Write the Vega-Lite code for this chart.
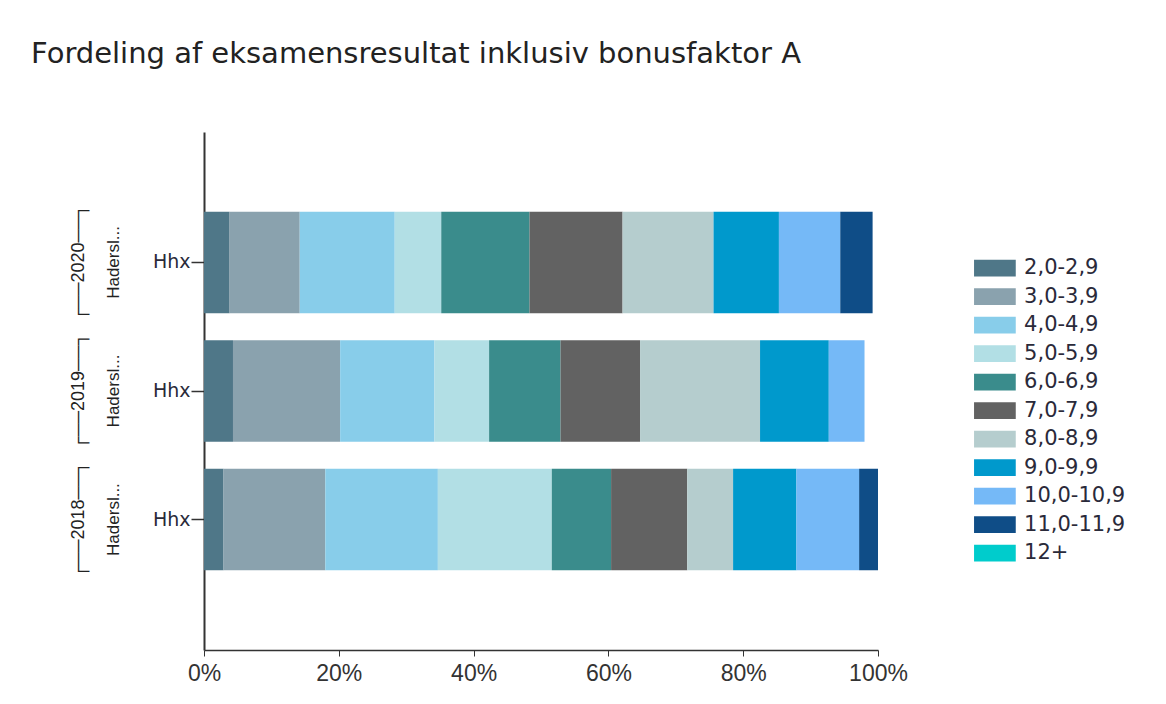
{
  "$schema": "https://vega.github.io/schema/vega-lite/v6.json",
  "autosize": {"type": "none"},
  "width": 674,
  "height": 518,
  "padding": {"left": 204, "top": 132, "right": 288, "bottom": 54},
  "background": "white",
  "title": {
    "text": "Fordeling af eksamensresultat inklusiv bonusfaktor A",
    "anchor": "start",
    "frame": "group",
    "dx": -173,
    "offset": 63,
    "font": "DejaVu Sans",
    "fontSize": 29,
    "fontWeight": "normal",
    "color": "#222222"
  },
  "data": {
    "values": [
      {"year": "2020", "school": "Hadersl...", "type": "Hhx", "k": 1, "band": "2,0-2,9", "pct": 3.8},
      {"year": "2020", "school": "Hadersl...", "type": "Hhx", "k": 2, "band": "3,0-3,9", "pct": 10.4},
      {"year": "2020", "school": "Hadersl...", "type": "Hhx", "k": 3, "band": "4,0-4,9", "pct": 14.1},
      {"year": "2020", "school": "Hadersl...", "type": "Hhx", "k": 4, "band": "5,0-5,9", "pct": 6.9},
      {"year": "2020", "school": "Hadersl...", "type": "Hhx", "k": 5, "band": "6,0-6,9", "pct": 13.1},
      {"year": "2020", "school": "Hadersl...", "type": "Hhx", "k": 6, "band": "7,0-7,9", "pct": 13.8},
      {"year": "2020", "school": "Hadersl...", "type": "Hhx", "k": 7, "band": "8,0-8,9", "pct": 13.5},
      {"year": "2020", "school": "Hadersl...", "type": "Hhx", "k": 8, "band": "9,0-9,9", "pct": 9.7},
      {"year": "2020", "school": "Hadersl...", "type": "Hhx", "k": 9, "band": "10,0-10,9", "pct": 9.1},
      {"year": "2020", "school": "Hadersl...", "type": "Hhx", "k": 10, "band": "11,0-11,9", "pct": 4.8},
      {"year": "2019", "school": "Hadersl...", "type": "Hhx", "k": 1, "band": "2,0-2,9", "pct": 4.3},
      {"year": "2019", "school": "Hadersl...", "type": "Hhx", "k": 2, "band": "3,0-3,9", "pct": 15.9},
      {"year": "2019", "school": "Hadersl...", "type": "Hhx", "k": 3, "band": "4,0-4,9", "pct": 14.0},
      {"year": "2019", "school": "Hadersl...", "type": "Hhx", "k": 4, "band": "5,0-5,9", "pct": 8.1},
      {"year": "2019", "school": "Hadersl...", "type": "Hhx", "k": 5, "band": "6,0-6,9", "pct": 10.6},
      {"year": "2019", "school": "Hadersl...", "type": "Hhx", "k": 6, "band": "7,0-7,9", "pct": 11.8},
      {"year": "2019", "school": "Hadersl...", "type": "Hhx", "k": 7, "band": "8,0-8,9", "pct": 17.8},
      {"year": "2019", "school": "Hadersl...", "type": "Hhx", "k": 8, "band": "9,0-9,9", "pct": 10.2},
      {"year": "2019", "school": "Hadersl...", "type": "Hhx", "k": 9, "band": "10,0-10,9", "pct": 5.3},
      {"year": "2018", "school": "Hadersl...", "type": "Hhx", "k": 1, "band": "2,0-2,9", "pct": 2.9},
      {"year": "2018", "school": "Hadersl...", "type": "Hhx", "k": 2, "band": "3,0-3,9", "pct": 15.1},
      {"year": "2018", "school": "Hadersl...", "type": "Hhx", "k": 3, "band": "4,0-4,9", "pct": 16.7},
      {"year": "2018", "school": "Hadersl...", "type": "Hhx", "k": 4, "band": "5,0-5,9", "pct": 16.9},
      {"year": "2018", "school": "Hadersl...", "type": "Hhx", "k": 5, "band": "6,0-6,9", "pct": 8.8},
      {"year": "2018", "school": "Hadersl...", "type": "Hhx", "k": 6, "band": "7,0-7,9", "pct": 11.3},
      {"year": "2018", "school": "Hadersl...", "type": "Hhx", "k": 7, "band": "8,0-8,9", "pct": 6.8},
      {"year": "2018", "school": "Hadersl...", "type": "Hhx", "k": 8, "band": "9,0-9,9", "pct": 9.4},
      {"year": "2018", "school": "Hadersl...", "type": "Hhx", "k": 9, "band": "10,0-10,9", "pct": 9.3},
      {"year": "2018", "school": "Hadersl...", "type": "Hhx", "k": 10, "band": "11,0-11,9", "pct": 2.8}
    ]
  },
  "layer": [
    {
      "mark": {"type": "bar", "opacity": 1, "strokeWidth": 0},
      "encoding": {
        "y": {
          "field": "year",
          "type": "nominal",
          "sort": "descending",
          "scale": {"paddingInner": 0.21, "paddingOuter": 0.62},
          "axis": {
            "orient": "left",
            "title": null,
            "labelExpr": "'Hhx'",
            "labelFont": "DejaVu Sans",
            "labelFontSize": 19,
            "labelColor": "#2a2a3a",
            "labelPadding": 1,
            "tickSize": 13,
            "tickColor": "#333333",
            "tickWidth": 1.5,
            "domainColor": "#333333",
            "domainWidth": 2,
            "grid": false
          }
        },
        "x": {
          "field": "pct",
          "type": "quantitative",
          "stack": "zero",
          "scale": {"domain": [0, 100], "nice": false},
          "axis": {
            "title": null,
            "values": [0, 20, 40, 60, 80, 100],
            "labelExpr": "datum.value + '%'",
            "labelFont": "Liberation Sans",
            "labelFontSize": 23,
            "labelColor": "#333333",
            "labelPadding": 6,
            "labelFlush": false,
            "tickSize": 6,
            "tickColor": "#333333",
            "domainColor": "#333333",
            "domainWidth": 1.5,
            "grid": false
          }
        },
        "order": {"field": "k", "type": "quantitative"},
        "color": {
          "field": "band",
          "type": "nominal",
          "scale": {
            "domain": ["2,0-2,9", "3,0-3,9", "4,0-4,9", "5,0-5,9", "6,0-6,9", "7,0-7,9", "8,0-8,9", "9,0-9,9", "10,0-10,9", "11,0-11,9", "12+"],
            "range": ["#4f7788", "#8aa2ae", "#88cdea", "#b2dfe5", "#3a8c8c", "#626262", "#b5cdce", "#0099cc", "#75b9f7", "#0f4d87", "#00cccc"]
          },
          "legend": {
            "title": null,
            "orient": "none",
            "legendX": 780.4,
            "legendY": 125.7,
            "padding": 0,
            "symbolType": "M-2,-0.8H2V0.8H-2Z",
            "symbolSize": 435,
            "symbolStrokeWidth": 0,
            "symbolOpacity": 1,
            "labelFont": "DejaVu Sans",
            "labelFontSize": 21,
            "labelColor": "#2a2a3a",
            "labelOffset": 18.7,
            "rowPadding": 6.5
          }
        }
      }
    },
    {
      "mark": {"type": "point", "opacity": 0},
      "encoding": {
        "y": {
          "field": "year",
          "type": "nominal",
          "sort": "descending",
          "axis": {
            "orient": "left",
            "title": null,
            "labelExpr": "'Hadersl...'",
            "labelAngle": -90,
            "labelAlign": "center",
            "labelBaseline": "middle",
            "labelFont": "Liberation Sans",
            "labelFontSize": 17,
            "labelColor": "#222222",
            "labelPadding": 0,
            "ticks": false,
            "tickSize": 0,
            "domain": false,
            "offset": 91,
            "grid": false
          }
        }
      }
    },
    {
      "mark": {"type": "point", "opacity": 0},
      "encoding": {
        "y": {
          "field": "year",
          "type": "nominal",
          "sort": "descending",
          "axis": {
            "orient": "left",
            "title": null,
            "labelExpr": "'┌──' + datum.value + '──┐'",
            "labelAngle": -90,
            "labelAlign": "center",
            "labelBaseline": "middle",
            "labelFont": "Liberation Sans",
            "labelFontSize": 18,
            "labelColor": "#222222",
            "labelPadding": 0,
            "ticks": false,
            "tickSize": 0,
            "domain": false,
            "offset": 126,
            "grid": false
          }
        }
      }
    }
  ],
  "resolve": {"axis": {"y": "independent"}},
  "config": {"view": {"stroke": null}}
}
